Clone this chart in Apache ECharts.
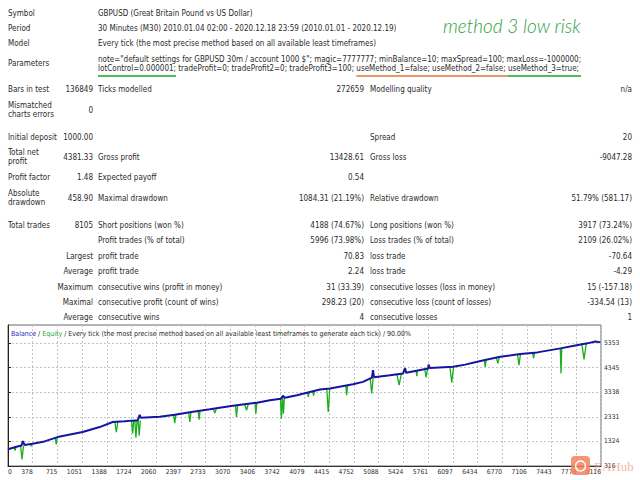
<!DOCTYPE html>
<html>
<head>
<meta charset="utf-8">
<title>GBPUSD strategy tester report</title>
<script src="https://cdn.jsdelivr.net/npm/echarts@6/dist/echarts.min.js"></script>
<style>
  html, body { margin: 0; padding: 0; background: #fff; }
  #report { width: 640px; height: 480px; }
</style>
</head>
<body>
<div id="report"></div>
<script>
// report header
const headerLabels = ['Symbol', 'Period', 'Model', 'Parameters'];
const headerValues = [
  'GBPUSD (Great Britain Pound vs US Dollar)',
  '30 Minutes (M30) 2010.01.04 02:00 - 2020.12.18 23:59 (2010.01.01 - 2020.12.19)',
  'Every tick (the most precise method based on all available least timeframes)'
];
const paramLines = [
  'note="default settings for GBPUSD 30m / account 1000 $"; magic=7777777; minBalance=10; maxSpread=100; maxLoss=-1000000;',
  'lotControl=0.000001; tradeProfit=0; tradeProfit2=0; tradeProfit3=100; useMethod_1=false; useMethod_2=false; useMethod_3=true;'
];
const noteText = 'method 3 low risk';

// stats table: label, value, label, value, label, value
const statRows = [
  ['Bars in test', '136849', 'Ticks modelled', '272659', 'Modelling quality', 'n/a'],
  ['Mismatched\ncharts errors', '0', '', '', '', ''],
  ['Initial deposit', '1000.00', '', '', 'Spread', '20'],
  ['Total net\nprofit', '4381.33', 'Gross profit', '13428.61', 'Gross loss', '-9047.28'],
  ['Profit factor', '1.48', 'Expected payoff', '0.54', '', ''],
  ['Absolute\ndrawdown', '458.90', 'Maximal drawdown', '1084.31 (21.19%)', 'Relative drawdown', '51.79% (581.17)'],
  ['Total trades', '8105', 'Short positions (won %)', '4188 (74.67%)', 'Long positions (won %)', '3917 (73.24%)'],
  ['', '', 'Profit trades (% of total)', '5996 (73.98%)', 'Loss trades (% of total)', '2109 (26.02%)'],
  ['', 'Largest', 'profit trade', '70.83', 'loss trade', '-70.64'],
  ['', 'Average', 'profit trade', '2.24', 'loss trade', '-4.29'],
  ['', 'Maximum', 'consecutive wins (profit in money)', '31 (33.39)', 'consecutive losses (loss in money)', '15 (-157.18)'],
  ['', 'Maximal', 'consecutive profit (count of wins)', '298.23 (20)', 'consecutive loss (count of losses)', '-334.54 (13)'],
  ['', 'Average', 'consecutive wins', '4', 'consecutive losses', '1']
];

// chart axes
const tradeTickLabels = ['0', '378', '715', '1051', '1388', '1724', '2060', '2397', '2733', '3070',
  '3406', '3742', '4079', '4415', '4752', '5088', '5424', '5761', '6097', '6434', '6770', '7106',
  '7443', '7779', '8116'];
const moneyTickLabels = [316, 1324, 2331, 3338, 4345, 5353];

// balance curve (trade number -> balance)
const balanceTrades = [0, 103, 185, 203, 226, 336, 500, 678, 1021, 1254, 1432, 1596, 1692, 1774, 1802,
  1815, 2075, 2281, 2487, 2761, 3076, 3404, 3582, 3733, 3760, 3788, 3952, 4130, 4267, 4404, 4719,
  4856, 4979, 4993, 5007, 5226, 5404, 5432, 5446, 5747, 5754, 5768, 6090, 6254, 6419, 6556, 6734,
  7008, 7241, 7556, 7762, 7926, 8035, 8105];
const balanceValues = [1000, 1097, 1159, 1336, 1180, 1229, 1323, 1500, 1706, 1911, 2117, 2146, 2175, 2186, 2413,
  2290, 2331, 2413, 2516, 2639, 2783, 2907, 3009, 3071, 3194, 3112, 3215, 3351, 3449, 3490, 3667,
  3762, 3935, 4243, 3955, 4037, 4107, 4325, 4140, 4313, 4469, 4330, 4379, 4469, 4584, 4683, 4790,
  4901, 4971, 5135, 5250, 5341, 5415, 5381];

// equity drawdowns: trade where it bottoms, level before, lowest equity, length in trades
const dipTrades = [96, 192, 318, 660, 1482, 1705, 1750, 1795, 2281, 2487, 2614, 2829, 3126, 3263, 3391,
  3740, 3768, 4108, 4180, 4381, 4633, 4975, 5350, 5592, 5720, 6070, 6528, 6700, 6990, 7190, 7565, 7880];
const dipBase = [1090, 1150, 1225, 1495, 2120, 2175, 2180, 2186, 2410, 2510, 2565, 2650, 2800, 2855, 2900,
  3075, 3110, 3335, 3385, 3480, 3625, 3925, 4085, 4230, 4305, 4375, 4665, 4770, 4890, 4955, 5140, 5330];
const dipLows = [953, 590, 1120, 1200, 1706, 1650, 1476, 1560, 2076, 2117, 2216, 2487, 2323, 2598, 2463,
  2257, 2463, 3145, 3200, 2528, 3215, 3285, 3626, 3996, 3943, 3737, 4378, 4518, 4448, 4724, 4107, 4683];
const dipSpans = [30, 40, 20, 30, 40, 30, 30, 30, 30, 30, 25, 40, 30, 50, 25,
  25, 25, 25, 25, 40, 25, 40, 60, 20, 40, 50, 25, 40, 40, 25, 20, 60];

const FONT = '"DejaVu Sans Condensed", "DejaVu Sans", sans-serif';
const TEXT_COLOR = '#2b2b2b';
const TABLE_SIZE = 8;
const AXIS_SIZE = 6.7;
const CAPTION_SIZE = 7;

const balanceData = balanceTrades.map((t, i) => [t, balanceValues[i]]);
const equityData = [];
dipTrades.forEach((t, i) => {
  const h = dipSpans[i] / 2;
  equityData.push([t - h, dipBase[i]], [t, dipLows[i]], [t + h, dipBase[i]], [t + h, '-']);
});

const xStep = 338;
const xMax = xStep * (tradeTickLabels.length - 1);

// text layout
const measureCtx = document.createElement('canvas').getContext('2d');
measureCtx.font = TABLE_SIZE + 'px ' + FONT;
const textWidth = s => measureCtx.measureText(s).width;

function txt(text, x, y, align, extra) {
  return {
    type: 'text',
    silent: true,
    style: Object.assign({
      text: text, x: x, y: y,
      textAlign: align, textVerticalAlign: 'middle',
      fill: TEXT_COLOR, fontSize: TABLE_SIZE, fontFamily: FONT
    }, extra || {})
  };
}

const graphics = [];
const headerY = [13, 28, 43, 63.5];
const paramY = [59, 68];
headerLabels.forEach((l, i) => graphics.push(txt(l, 8, headerY[i], 'left')));
headerValues.forEach((v, i) => graphics.push(txt(v, 98, headerY[i], 'left')));
paramLines.forEach((v, i) => graphics.push(txt(v, 98, paramY[i], 'left')));

// hand-drawn underlines on the second parameter line
const line2 = paramLines[1];
const ulY = 76;
const firstEnd = 98 + textWidth(line2.slice(0, line2.indexOf(';') + 1));
const m1 = 98 + textWidth(line2.slice(0, line2.indexOf('useMethod_1')));
const m3 = 98 + textWidth(line2.slice(0, line2.indexOf('useMethod_3')));
const lineEnd = 98 + textWidth(line2);
[[98, firstEnd, '#4cbc5c'], [m1, m3, '#e8976a'], [m3, lineEnd + 2, '#4cbc5c']].forEach(u => {
  graphics.push({
    type: 'line', silent: true,
    shape: { x1: u[0], y1: ulY, x2: u[1], y2: ulY },
    style: { stroke: u[2], lineWidth: 2 }
  });
});

graphics.push(txt(noteText, 443, 25, 'left', {
  fill: '#2f9e3c', fontSize: 19, fontFamily: 'Lato, "Open Sans", sans-serif',
  fontStyle: 'italic', fontWeight: 300
}));

const rowY = [89, 110, 137, 157, 177, 198, 225, 240, 256, 271, 287, 302, 317];
const colX = [8, 93, 98, 364, 370, 632];
const colAlign = ['left', 'right', 'left', 'right', 'left', 'right'];
statRows.forEach((row, r) => {
  row.forEach((cell, c) => {
    if (!cell) return;
    const parts = cell.split('\n');
    parts.forEach((p, k) => {
      const dy = parts.length > 1 ? (k - (parts.length - 1) / 2) * 9.8 : 0;
      graphics.push(txt(p, colX[c], rowY[r] + dy, colAlign[c]));
    });
  });
});

// watermark
graphics.push({
  type: 'rect', silent: true, z: 200,
  shape: { x: 571, y: 456, width: 19, height: 19, r: 4 },
  style: { fill: '#f5835e', opacity: 0.85 }
});
graphics.push({
  type: 'circle', silent: true, z: 201,
  shape: { cx: 580.5, cy: 466, r: 5 },
  style: { fill: 'none', stroke: '#fff', lineWidth: 1.5 }
});
graphics.push(Object.assign(txt('EAHub', 594, 466, 'left', {
  fill: '#f0937a', opacity: 0.7, fontSize: 13, fontFamily: '"Liberation Serif", serif'
}), { z: 200 }));

const chart = echarts.init(document.getElementById('report'), null, { renderer: 'svg' });
chart.setOption({
  animation: false,
  backgroundColor: '#fff',
  title: {
    text: '{b|Balance} / {e|Equity} / Every tick (the most precise method based on all available least timeframes to generate each tick) / 90.00%',
    left: 11,
    top: 330,
    padding: 0,
    textStyle: {
      fontSize: CAPTION_SIZE, fontFamily: FONT, fontWeight: 'normal', color: TEXT_COLOR,
      rich: {
        b: { color: '#2a2ab8', fontSize: CAPTION_SIZE, fontFamily: FONT },
        e: { color: '#2ca33a', fontSize: CAPTION_SIZE, fontFamily: FONT }
      }
    }
  },
  grid: {
    left: 8, right: 39, top: 325, bottom: 14,
    show: true, borderColor: '#6a6a6a', borderWidth: 1, backgroundColor: '#fff',
    outerBoundsMode: 'none'
  },
  xAxis: {
    type: 'value',
    min: 0,
    max: xMax,
    interval: xStep,
    axisLine: { show: true, onZero: false, lineStyle: { color: '#333', width: 1 } },
    axisTick: { show: false },
    axisLabel: {
      showMinLabel: true, showMaxLabel: true,
      align: 'right', alignMinLabel: 'left', alignMaxLabel: 'right',
      margin: 2, color: TEXT_COLOR, fontSize: AXIS_SIZE, fontFamily: FONT,
      formatter: v => tradeTickLabels[Math.round(v / xStep)]
    },
    splitLine: { show: true, lineStyle: { color: '#c4c4c4', type: [2, 2], width: 1 } }
  },
  yAxis: {
    type: 'value',
    position: 'right',
    min: moneyTickLabels[0],
    max: 6093,
    axisLine: { show: true, lineStyle: { color: '#222', width: 1 } },
    axisTick: { show: true, length: 3, lineStyle: { color: '#222' }, customValues: moneyTickLabels },
    axisLabel: {
      customValues: moneyTickLabels, showMinLabel: true,
      margin: 3, color: TEXT_COLOR, fontSize: AXIS_SIZE, fontFamily: FONT,
      formatter: v => String(v)
    },
    splitLine: { show: true, lineStyle: { color: '#c4c4c4', type: [2, 2], width: 1 } }
  },
  series: [
    {
      name: 'Equity',
      type: 'line',
      data: equityData,
      showSymbol: false,
      connectNulls: false,
      lineStyle: { color: '#1aae1a', width: 1.3 },
      z: 2
    },
    {
      name: 'Balance',
      type: 'line',
      data: balanceData,
      showSymbol: false,
      lineStyle: { color: '#1515a0', width: 2 },
      z: 3
    }
  ],
  graphic: graphics
});
</script>
</body>
</html>
